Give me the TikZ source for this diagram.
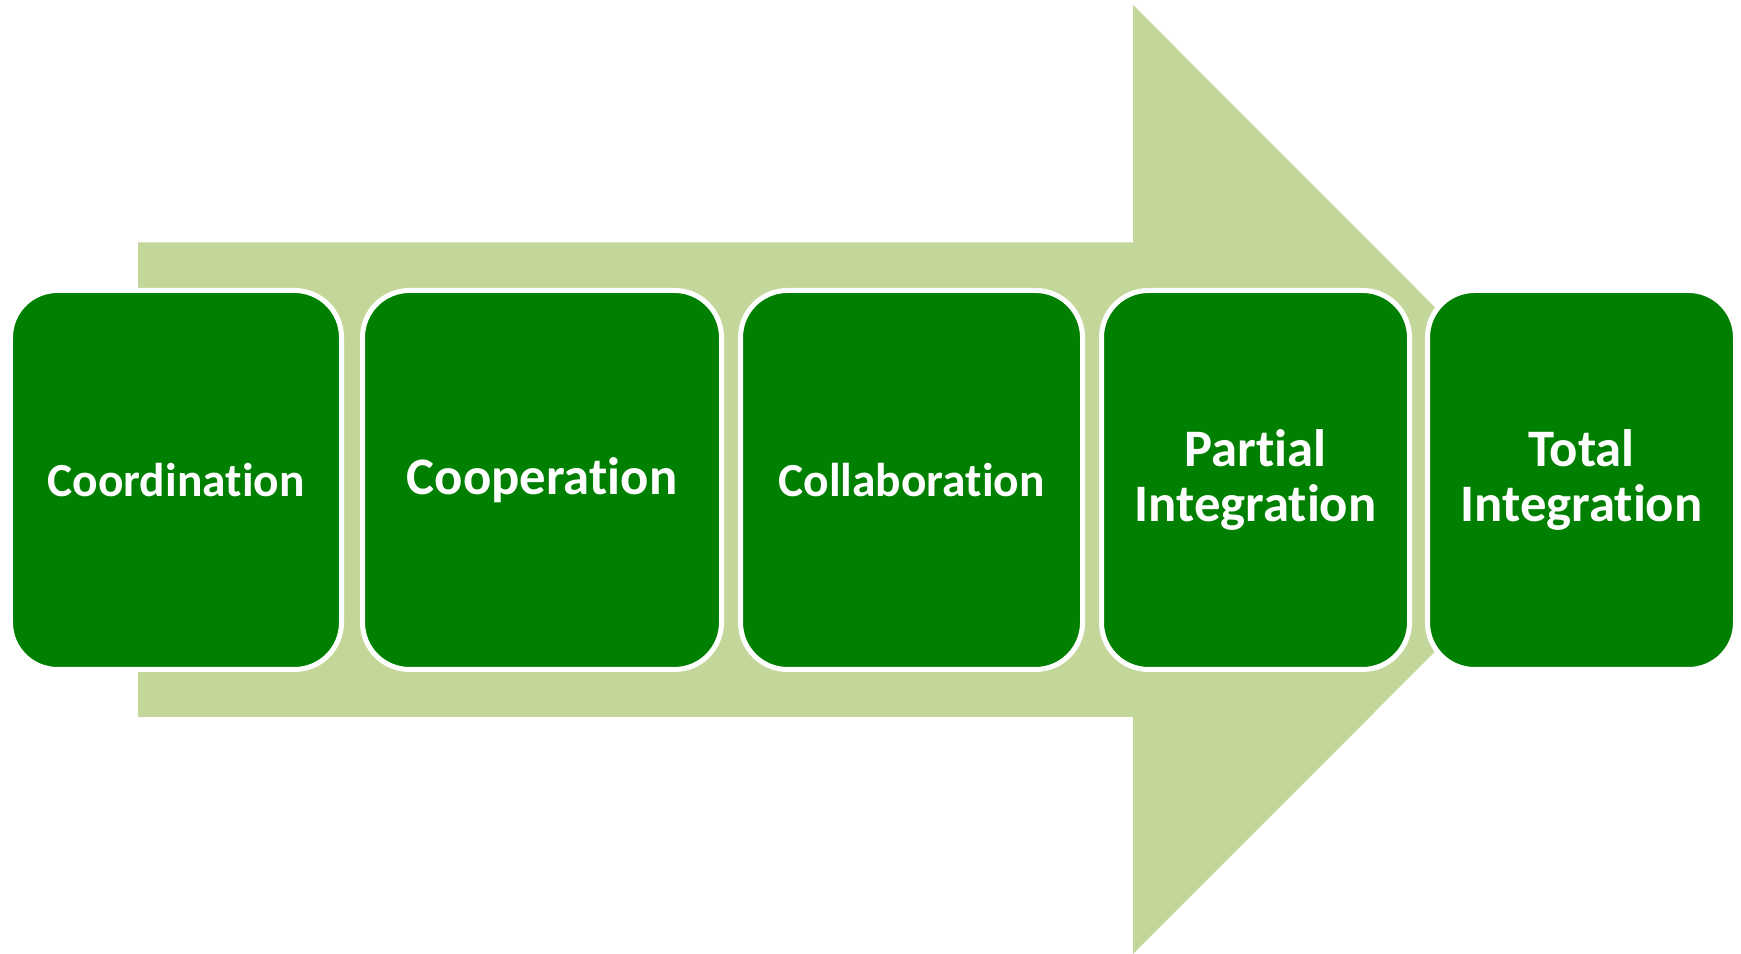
\documentclass[tikz,border=0pt]{standalone}
\usepackage{fontspec}
\setmainfont{Carlito}[Ligatures=NoCommon]
\definecolor{boxgreen}{RGB}{0,128,0}
\definecolor{arrowgreen}{RGB}{196,215,155}
\begin{document}
\begin{tikzpicture}[stage/.style={draw=white, line width=0.05cm, fill=boxgreen, rounded corners=0.47cm, minimum height=3.79cm, inner sep=0pt, text=white, align=center, font=\fontsize{#1}{15.4}\selectfont\bfseries}]
\useasboundingbox (0,0) rectangle (17.41,9.54);
\path[fill=arrowgreen] (1.38,2.37) -- (1.38,7.115) -- (11.33,7.115) -- (11.33,9.49) -- (16.07,4.745) -- (11.33,0) -- (11.33,2.37) -- cycle;
\node[stage=13.5, minimum width=3.31cm] (1) at (1.76,4.74) {Coordination};
\node[stage=15, minimum width=3.59cm] (2) at (5.42,4.74) {Cooperation};
\node[stage=13.5, minimum width=3.42cm] (3) at (9.115,4.74) {Collaboration};
\node[stage=15, minimum width=3.08cm] (4) at (12.555,4.74) {Partial\\Integration};
\node[stage=15, minimum width=3.08cm] (5) at (15.815,4.74) {Total\\Integration};
\end{tikzpicture}
\end{document}
